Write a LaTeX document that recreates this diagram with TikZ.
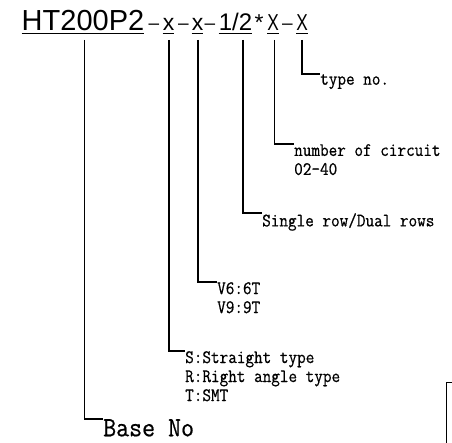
\documentclass[tikz,border=0pt]{standalone}
\usepackage{fontspec}
\newfontfamily\titlefont{Liberation Sans}
\newfontfamily\narrowfont[FakeStretch=0.75]{Liberation Sans}
\newfontfamily\labfont[FakeStretch=0.88,FakeBold=0.6]{Latin Modern Mono}
\newfontfamily\basefont[FakeStretch=0.9,FakeBold=0.6]{Latin Modern Mono}

\begin{document}
\begin{tikzpicture}[x=1pt, y=-1pt,
  code/.style={font=\titlefont\fontsize{23}{23}\selectfont, inner sep=0pt, anchor=base},
  hyph/.style={font=\titlefont\fontsize{19}{19}\selectfont, inner sep=0pt, anchor=base},
  lab/.style={font=\labfont\fontsize{19}{19}\selectfont, inner sep=0pt, anchor=north west, align=left},
  lead/.style={line width=1.6pt},
  uline/.style={line width=1.2pt}]
  \useasboundingbox (0,0) rectangle (452,443);
  % part number, piece by piece
  \node[code, font=\titlefont\fontsize{29}{29}\selectfont] (base) at (83,31) {HT200P2};
  \node[hyph] (d1) at (154,29.5) {–};
  \node[code] (c1) at (168.5,31) {x};
  \node[hyph] (d2) at (183.5,29.5) {–};
  \node[code] (c2) at (197.5,31) {x};
  \node[hyph] (d3) at (210,29.5) {–};
  \node[code, font=\titlefont\fontsize{24}{24}\selectfont] (c3) at (235.5,31) {1/2};
  \node[code] (st) at (259,31) {*};
  \node[code, font=\narrowfont\fontsize{23}{23}\selectfont] (c4) at (273,31) {X};
  \node[hyph] (d4) at (287.5,29.5) {–};
  \node[code, font=\narrowfont\fontsize{23}{23}\selectfont] (c5) at (302,31) {X};
  \foreach \n in {base,c1,c2,c3,c4,c5}
    \draw[uline] ([yshift=-2.5pt]\n.base west) -- ([yshift=-2.5pt]\n.base east);
  % meanings
  \node[lab] (l5) at (320,74) {type no.};
  \node[lab] (l4) at (294,144) {number of circuit\\02-40};
  \node[lab] (l3) at (262,213) {Single row/Dual rows};
  \node[lab] (l2) at (217,282) {V6:6T\\V9:9T};
  \node[lab] (l1) at (185,351) {S:Straight type\\R:Right angle type\\T:SMT};
  \node[lab, font=\basefont\fontsize{28}{28}\selectfont] (l0) at (103,419) {Base No};
  % leaders
  \draw[lead] ([yshift=-9pt]c5.base) |- (l5.north west);
  \draw[lead] ([xshift=1.5pt,yshift=-9pt]c4.base) |- (l4.north west);
  \draw[lead] ([xshift=7.5pt,yshift=-9pt]c3.base) |- (l3.north west);
  \draw[lead] ([xshift=0.5pt,yshift=-9pt]c2.base) |- (l2.north west);
  \draw[lead] ([xshift=0.5pt,yshift=-9pt]c1.base) |- (l1.north west);
  \draw[lead] ([xshift=1.5pt,yshift=-9pt]base.base) |- (l0.north west);
  % frame corner at the edge
  \draw[lead] (446.5,443) |- (452,382.5);
\end{tikzpicture}
\end{document}
